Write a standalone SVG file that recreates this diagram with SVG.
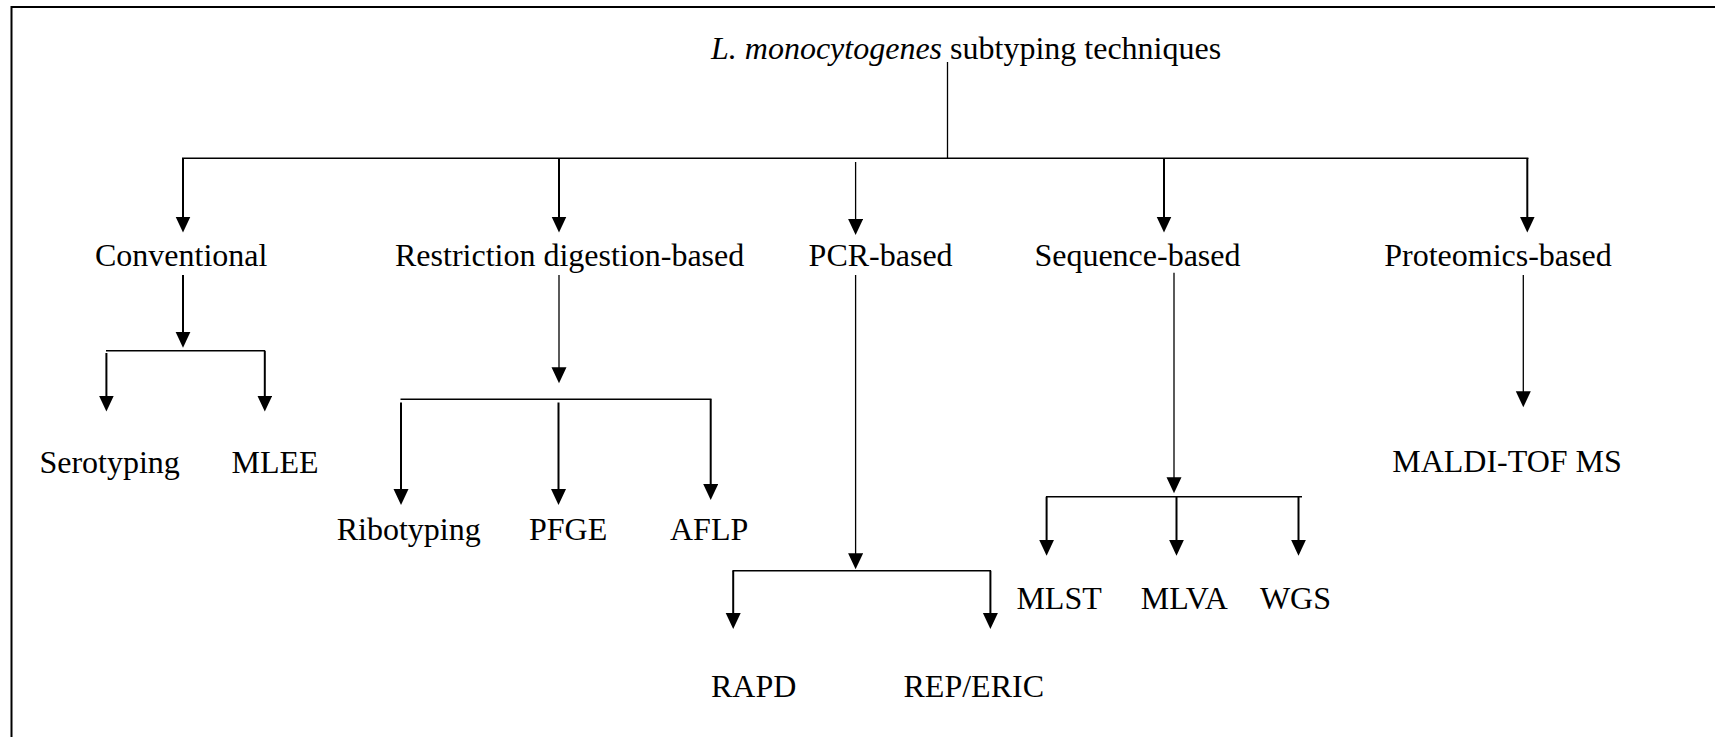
<svg xmlns="http://www.w3.org/2000/svg" width="1715" height="737" viewBox="0 0 1715 737">
<style>
text{font-family:"Liberation Serif","Times New Roman",serif;font-size:32px;fill:#000}
.bar{stroke:#000;stroke-width:1.5;fill:none}
.arr{stroke:#000;stroke-width:2;fill:none;marker-end:url(#ah)}
.thin{stroke:#000;stroke-width:1.3;fill:none}
.thinarr{stroke:#000;stroke-width:1.3;fill:none;marker-end:url(#ah)}
</style>
<defs>
<marker id="ah" markerUnits="userSpaceOnUse" markerWidth="17" markerHeight="16" refX="1.5" refY="7.5" orient="auto" viewBox="0 0 17 16">
<path d="M0,0 L16,7.5 L0,15 z" fill="#000"/>
</marker>
</defs>
<rect width="1715" height="737" fill="#fff"/>
<path d="M11.5,745 V7 H1720" stroke="#000" stroke-width="2" fill="none"/>

<g id="connectors">
<line class="thin" x1="947.5" y1="62" x2="947.5" y2="158"/>
<line class="bar" x1="182" y1="158.3" x2="1528.4" y2="158.3"/>
<line class="arr" x1="183" y1="158" x2="183" y2="218"/>
<line class="arr" x1="559" y1="158" x2="559" y2="218"/>
<line class="thinarr" x1="855.6" y1="162" x2="855.6" y2="220.5"/>
<line class="arr" x1="1164" y1="158" x2="1164" y2="218"/>
<line class="arr" x1="1527.3" y1="158" x2="1527.3" y2="218"/>

<line class="arr" x1="183" y1="275" x2="183" y2="333.2"/>
<line class="bar" x1="106" y1="350.7" x2="265" y2="350.7"/>
<line class="arr" x1="106.4" y1="353" x2="106.4" y2="397"/>
<line class="arr" x1="264.8" y1="350.7" x2="264.8" y2="397"/>

<line class="thinarr" x1="559" y1="275" x2="559" y2="368.8"/>
<line class="bar" x1="400.5" y1="399.3" x2="711.5" y2="399.3"/>
<line class="arr" x1="401" y1="402.5" x2="401" y2="490.5"/>
<line class="arr" x1="558.5" y1="402.5" x2="558.5" y2="490.5"/>
<line class="arr" x1="710.7" y1="399.3" x2="710.7" y2="485.5"/>

<line class="thinarr" x1="855.6" y1="275" x2="855.6" y2="554.8"/>
<line class="bar" x1="732.5" y1="570.7" x2="991" y2="570.7"/>
<line class="arr" x1="733.2" y1="570.7" x2="733.2" y2="614.5"/>
<line class="arr" x1="990.4" y1="570.7" x2="990.4" y2="614.5"/>

<line class="thinarr" x1="1174" y1="272.7" x2="1174" y2="478.8"/>
<line class="bar" x1="1046" y1="496.7" x2="1302" y2="496.7"/>
<line class="arr" x1="1046.6" y1="496.7" x2="1046.6" y2="541.2"/>
<line class="arr" x1="1176.5" y1="496.7" x2="1176.5" y2="541.2"/>
<line class="arr" x1="1298.5" y1="496.7" x2="1298.5" y2="541.2"/>

<line class="thinarr" x1="1523.3" y1="275" x2="1523.3" y2="392.8"/>
</g>

<g id="root"><text x="711" y="59.3"><tspan font-style="italic">L. monocytogenes</tspan> subtyping techniques</text></g>
<g id="conventional"><text x="95" y="265.7">Conventional</text></g>
<g id="restriction"><text x="395" y="265.7">Restriction digestion-based</text></g>
<g id="pcr"><text x="808.6" y="265.7">PCR-based</text></g>
<g id="sequence"><text x="1034.4" y="265.7">Sequence-based</text></g>
<g id="proteomics"><text x="1384.2" y="265.7">Proteomics-based</text></g>

<g id="serotyping"><text x="39.4" y="472.7">Serotyping</text></g>
<g id="mlee"><text x="231.5" y="472.7">MLEE</text></g>

<g id="ribotyping"><text x="336.7" y="539.5">Ribotyping</text></g>
<g id="pfge"><text x="529" y="539.5">PFGE</text></g>
<g id="aflp"><text x="670" y="539.5">AFLP</text></g>

<g id="rapd"><text x="711" y="696.7">RAPD</text></g>
<g id="repteric"><text x="903.5" y="696.7">REP/ERIC</text></g>

<g id="mlst"><text x="1016.4" y="609.3">MLST</text></g>
<g id="mlva"><text x="1140.8" y="609.3">MLVA</text></g>
<g id="wgs"><text x="1259.9" y="609.3">WGS</text></g>

<g id="maldi"><text x="1392.2" y="471.7">MALDI-TOF MS</text></g>
</svg>
